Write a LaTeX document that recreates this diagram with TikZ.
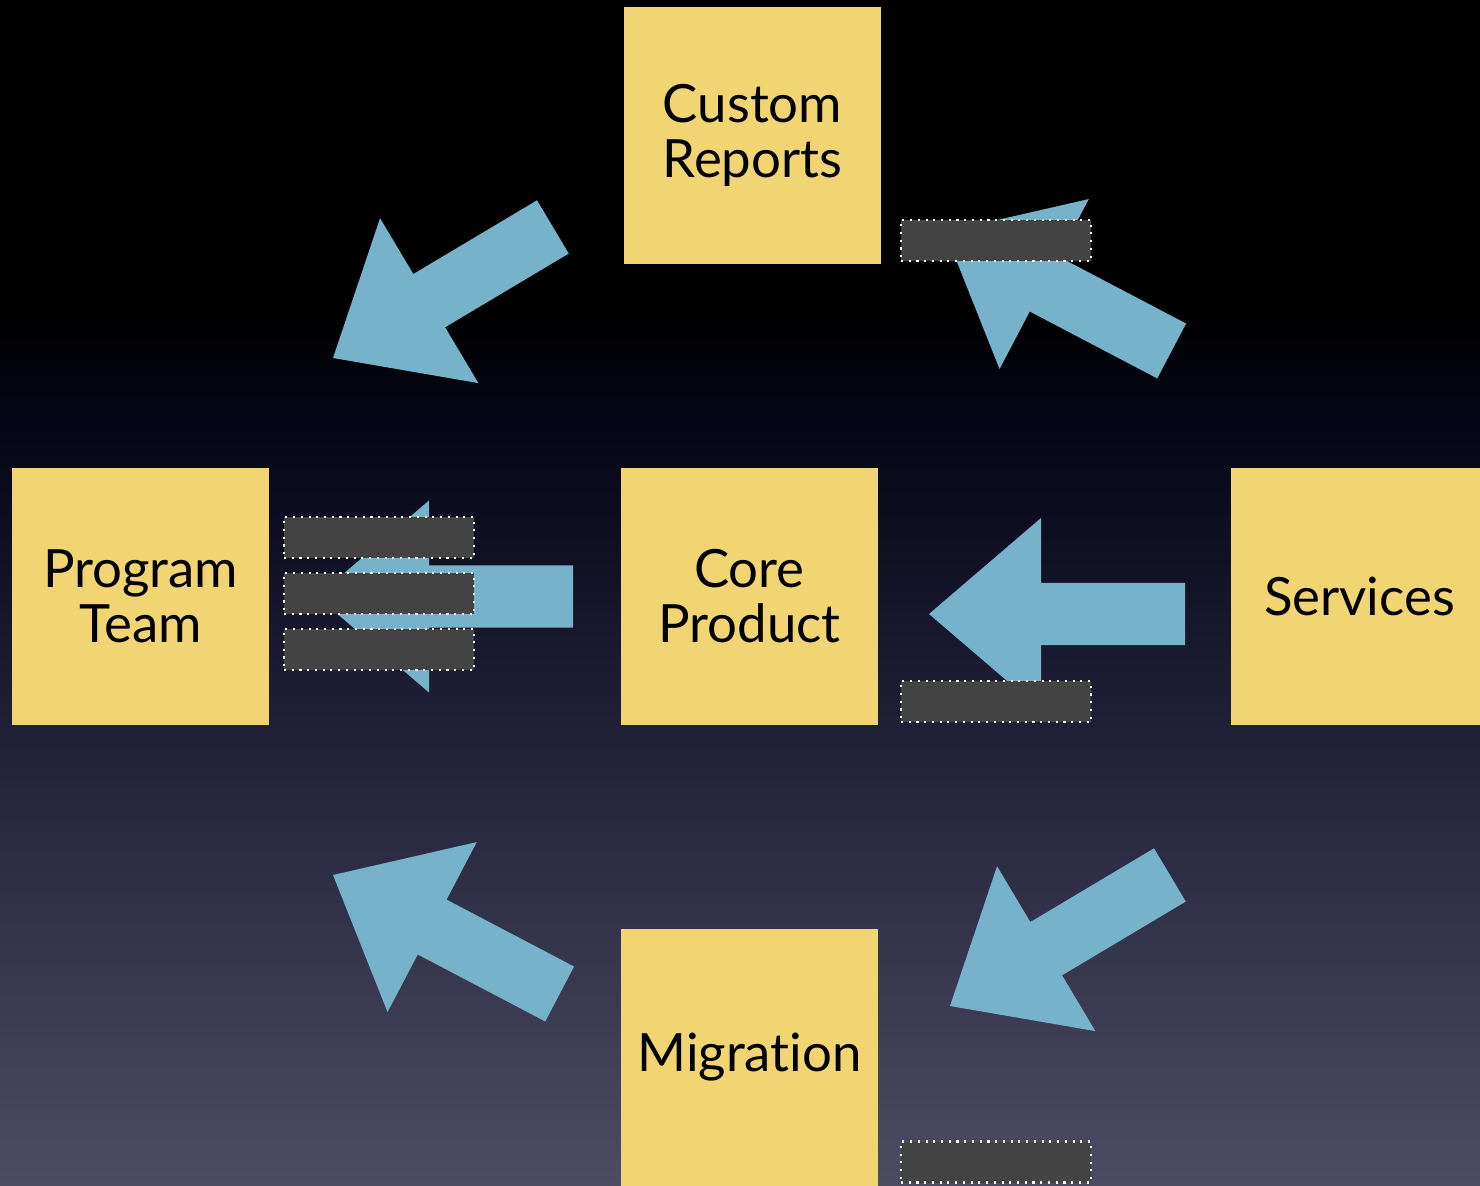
\documentclass[tikz,border=0pt]{standalone}
\usepackage{fontspec}
\setmainfont{Lato}[Ligatures=NoCommon]
\usepackage{tikz}

\definecolor{stickyyellow}{RGB}{240,213,114}
\definecolor{arrowblue}{RGB}{119,178,203}
\definecolor{tagfill}{RGB}{67,67,67}
\definecolor{bgbottom}{RGB}{76,76,100}
\definecolor{bgmiddle}{RGB}{30,30,54}
\definecolor{bgupper}{RGB}{6,6,24}

% path is mapped onto 25bp..75bp of the shading
\pgfdeclareverticalshading{bgfade}{100bp}{color(0bp)=(bgbottom); color(25bp)=(bgbottom); color(45bp)=(bgmiddle); color(57bp)=(bgupper); color(62bp)=(black); color(100bp)=(black)}

\tikzset{
  sticky/.style={fill=stickyyellow, minimum width=2.57cm, minimum height=2.57cm,
                 inner sep=0pt, align=center, font=\fontsize{15}{15.6}\selectfont},
  tagbox/.style={fill=tagfill, draw=white, line width=0.6pt,
                 dash pattern=on 0.6pt off 1.6pt, minimum width=1.9cm,
                 minimum height=0.41cm, inner sep=0pt},
  bigarrow/.pic={
    \fill[arrowblue] (0,0) -- (112,-96) -- (112,-31) -- (256,-31)
                     -- (256,31) -- (112,31) -- (112,96) -- cycle;
  }
}

\begin{document}
\begin{tikzpicture}[x=0.01cm,y=-0.01cm]
        \useasboundingbox (0,0) rectangle (1480,1186);
        \clip (0,0) rectangle (1480,1186);
        \shade[shading=bgfade] (0,0) rectangle (1480,1186);

        \begin{scope}[every node/.style={sticky}]
            \node (CR) at (752.5,135.5) {Custom\\Reports};
            \node (PT) at (140.5,596.5) {Program\\Team};
            \node (CP) at (749.5,596.5) {Core\\Product};
            \node (SV) at (1359.5,596.5) {Services};
            \node (MG) at (749.5,1057.5) {Migration};
        \end{scope}

        % arrows, tip first
        \pic (CRtoPT) [rotate=30.8]  at (333,358)  {bigarrow};
        \pic (SVtoCR) [rotate=-27.7] at (945,232)  {bigarrow};
        \pic (CPtoPT)                at (317,596.5) {bigarrow};
        \pic (SVtoCP)                at (929,614)  {bigarrow};
        \pic (MGtoPT) [rotate=-27.7] at (333,875)  {bigarrow};
        \pic (SVtoMG) [rotate=30.8]  at (950,1006) {bigarrow};

        \begin{scope}[every node/.style={tagbox}]
            \node (T1) at (996,240.5) {};
            \node (T2) at (379,537.5) {};
            \node (T3) at (379,593.5) {};
            \node (T4) at (379,649.5) {};
            \node (T5) at (996,701.5) {};
            \node (T6) at (996,1162) {};
        \end{scope}
    \end{tikzpicture}
\end{document}
